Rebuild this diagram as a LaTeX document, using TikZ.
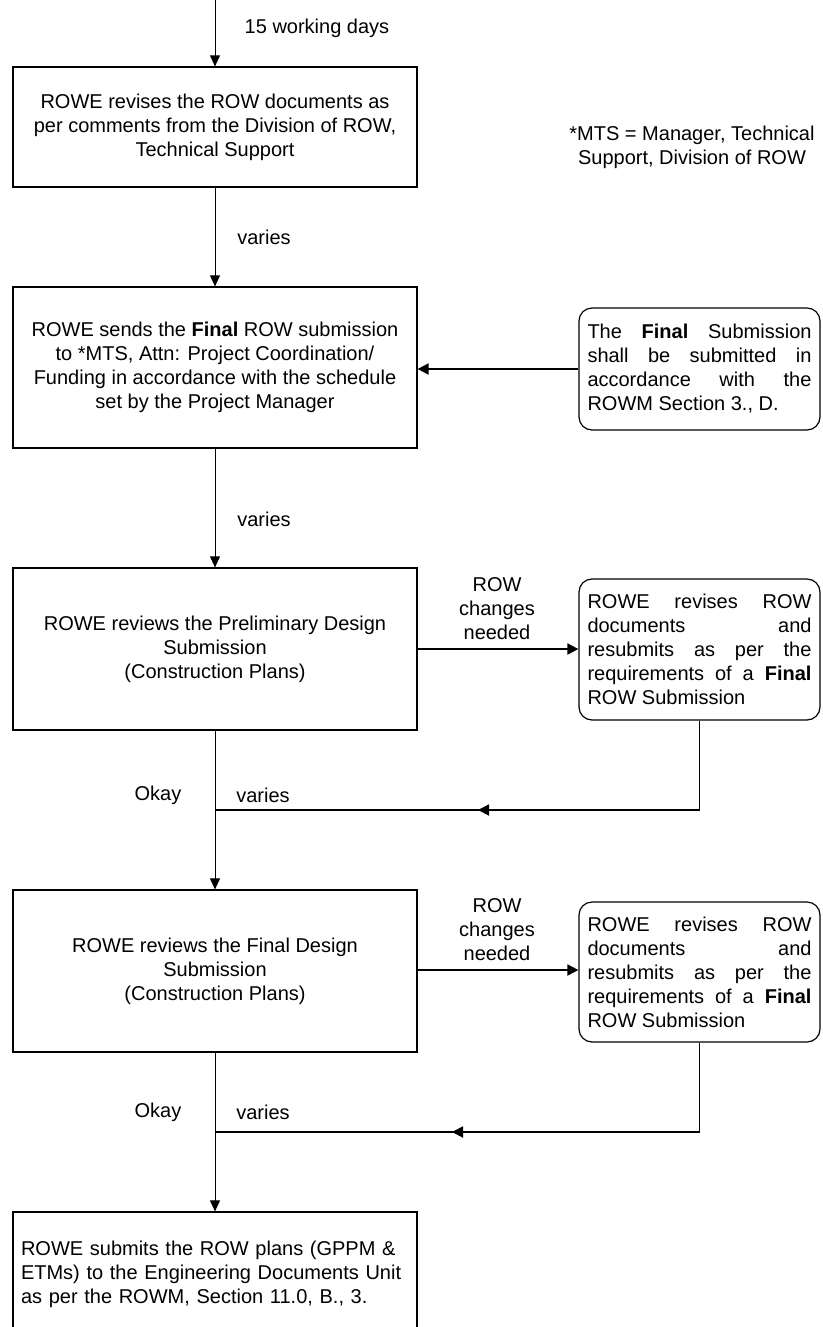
\documentclass[tikz,border=0pt]{standalone}
\usepackage{fontspec}
\setmainfont{Liberation Sans}
\usetikzlibrary{arrows.meta}
\newcommand{\jline}[1]{\makebox[224pt][s]{#1}}
\begin{document}
\begin{tikzpicture}[x=1pt,y=-1pt,
  every node/.style={font=\fontsize{20}{24}\selectfont, inner sep=0pt},
  mainbox/.style={draw, line width=1.2pt, minimum width=404pt, align=center},
  notebox/.style={draw, line width=1.2pt, rounded corners=13pt, minimum width=241pt, align=left},
  lbl/.style={align=center},
  varr/.style={line width=0.9pt, -{Triangle[length=11pt,width=10pt]}},
  harr/.style={line width=1.8pt, -{Triangle[length=11pt,width=11pt]}},
  fbline/.style={line width=1.8pt}
]
\useasboundingbox (0,0) rectangle (822,1327);
\clip (0,0) rectangle (822,1327);

% main boxes
\node[mainbox, minimum height=120pt] (b1) at (215,127)
  {ROWE revises the ROW documents as\\per comments from the Division of ROW,\\Technical Support};
\node[mainbox, minimum height=161pt] (b2) at (215,367.5)
  {ROWE sends the \textbf{Final} ROW submission\\to *MTS, Attn: Project Coordination/\\Funding in accordance with the schedule\\set by the Project Manager};
\node[mainbox, minimum height=162pt] (b3) at (215,649)
  {ROWE reviews the Preliminary Design\\Submission\\(Construction Plans)};
\node[mainbox, minimum height=162pt] (b4) at (215,971)
  {ROWE reviews the Final Design\\Submission\\(Construction Plans)};
\node[mainbox, minimum height=124pt, text width=388pt, align=left] (b5) at (215,1274)
  {ROWE submits the ROW plans (GPPM \&\\ETMs) to the Engineering Documents Unit\\as per the ROWM, Section 11.0, B., 3.};

% note boxes
\node[notebox, minimum height=122pt] (n1) at (699.5,369)
  {\jline{The \textbf{Final} Submission}\\\jline{shall be submitted in}\\\jline{accordance with the}\\ROWM Section 3., D.};
\node[notebox, minimum height=141pt] (n2) at (699.5,649.5)
  {\jline{ROWE revises ROW}\\\jline{documents and}\\\jline{resubmits as per the}\\\jline{requirements of a \textbf{Final}}\\ROW Submission};
\node[notebox, minimum height=140pt] (n3) at (699.5,972)
  {\jline{ROWE revises ROW}\\\jline{documents and}\\\jline{resubmits as per the}\\\jline{requirements of a \textbf{Final}}\\ROW Submission};

% footnote
\node[lbl] (mts) at (692,147) {*MTS = Manager, Technical\\Support, Division of ROW};

% labels
\node (l0) at (317,28) {15 working days};
\node (l1) at (264,237) {varies};
\node (l2) at (264,519) {varies};
\node[lbl] (l3) at (497,609) {ROW\\changes\\needed};
\node (ok1) at (158,795) {Okay};
\node (v3) at (263,795) {varies};
\node[lbl] (l4) at (497,930) {ROW\\changes\\needed};
\node (ok2) at (158,1112) {Okay};
\node (v4) at (263,1112) {varies};

% coordinates
\coordinate (top) at (215,-2);
\coordinate (j1) at (215,810);
\coordinate (a1) at (478,810);
\coordinate (j2) at (215,1132);
\coordinate (a2) at (452,1132);

% vertical arrows
\draw[varr] (top) -- (b1.north);
\draw[varr] (b1.south) -- (b2.north);
\draw[varr] (b2.south) -- (b3.north);
\draw[varr] (b3.south) -- (b4.north);
\draw[varr] (b4.south) -- (b5.north);

% horizontal arrows
\draw[harr] (n1.west) -- (b2.east |- n1.west);
\draw[harr] (b3.east) -- (n2.west |- b3.east);
\draw[harr] (b4.east |- 0,970) -- (n3.west |- 0,970);

% feedback lines
\draw[fbline, line width=1.2pt] (n2.south) |- (a1);
\draw[harr] (n2.south |- a1) -- (a1);
\draw[fbline] (a1) -- (j1);
\draw[fbline, line width=1.2pt] (n3.south) |- (a2);
\draw[harr] (n3.south |- a2) -- (a2);
\draw[fbline] (a2) -- (j2);
\end{tikzpicture}
\end{document}
